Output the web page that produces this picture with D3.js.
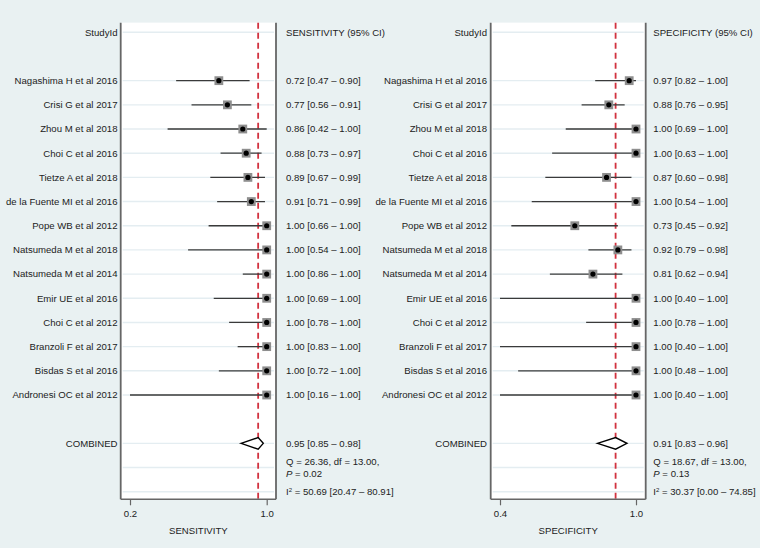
<!DOCTYPE html>
<html><head><meta charset="utf-8">
<script src="https://cdn.jsdelivr.net/npm/d3@7"></script>
<style>html,body{margin:0;padding:0;background:#e9f1f2;}svg{display:block;}</style>
</head><body>
<svg id="chart" width="760" height="548"></svg>
<script>
const studies = ["Nagashima H et al 2016","Crisi G et al 2017","Zhou M et al 2018","Choi C et al 2016","Tietze A et al 2018","de la Fuente MI et al 2016","Pope WB et al 2012","Natsumeda M et al 2018","Natsumeda M et al 2014","Emir UE et al 2016","Choi C et al 2012","Branzoli F et al 2017","Bisdas S et al 2016","Andronesi OC et al 2012"];
const sensEst = [0.72,0.77,0.86,0.88,0.89,0.91,1.00,1.00,1.00,1.00,1.00,1.00,1.00,1.00];
const sensLo  = [0.47,0.56,0.42,0.73,0.67,0.71,0.66,0.54,0.86,0.69,0.78,0.83,0.72,0.16];
const sensHi  = [0.90,0.91,1.00,0.97,0.99,0.99,1.00,1.00,1.00,1.00,1.00,1.00,1.00,1.00];
const specEst = [0.97,0.88,1.00,1.00,0.87,1.00,0.73,0.92,0.81,1.00,1.00,1.00,1.00,1.00];
const specLo  = [0.82,0.76,0.69,0.63,0.60,0.54,0.45,0.79,0.62,0.40,0.78,0.40,0.48,0.40];
const specHi  = [1.00,0.95,1.00,1.00,0.98,1.00,0.92,0.98,0.94,1.00,1.00,1.00,1.00,1.00];
const sensCombined = [0.95,0.85,0.98];
const specCombined = [0.91,0.83,0.96];
const sensQ = ["26.36","13.00","0.02"];
const specQ = ["18.67","13.00","0.13"];
const sensI2 = ["50.69","20.47","80.91"];
const specI2 = ["30.37","0.00","74.85"];
const sensTicks = [0.2,1.0];
const specTicks = [0.4,1.0];

const svg = d3.select("#chart");
const FONT = "Liberation Sans, Arial, Helvetica, sans-serif";
const FS = 9.6;
const y = d3.scaleLinear().domain([0,19]).range([32.3, 32.3+24.18*19]);
const yTop = y(-0.4), yBot = 499.3;

function panel(o){
  const x = d3.scaleLinear().domain(o.ticks).range(o.tickPx);
  const g = svg.append("g");
  const x0 = o.frame[0], x1 = o.frame[1];
  g.append("rect").attr("x",x0).attr("y",yTop).attr("width",x1-x0).attr("height",yBot-yTop).attr("fill","#fff");
  // gridlines
  const gridRows = [0].concat(d3.range(2,16)).concat([17,18,19]);
  g.selectAll(".grid").data(gridRows).join("line")
    .attr("x1",x0+2).attr("x2",x1-2).attr("y1",d=>y(d)).attr("y2",d=>y(d))
    .attr("stroke","#e4edf1").attr("stroke-width",1.4);
  // dashed combined line
  g.append("line").attr("x1",x(o.comb[0])).attr("x2",x(o.comb[0])).attr("y1",yTop).attr("y2",yBot)
    .attr("stroke","#d2323f").attr("stroke-width",1.8).attr("stroke-dasharray","6,4");
  // CI lines
  const dom = x.domain();
  const rows = o.est.map((e,i)=>({e, lo:Math.max(o.lo[i],dom[0]), hi:o.hi[i], r:i+2}));
  g.selectAll(".ci").data(rows).join("line")
    .attr("x1",d=>x(d.lo)).attr("x2",d=>x(d.hi)+ (d.hi>=1?0:0)).attr("y1",d=>y(d.r)).attr("y2",d=>y(d.r))
    .attr("stroke","#3a3a3a").attr("stroke-width",1.3);
  g.selectAll(".box").data(rows).join("rect")
    .attr("x",d=>x(d.e)-4.4).attr("y",d=>y(d.r)-4.4).attr("width",8.8).attr("height",8.8)
    .attr("fill","#8e8e8e");
  g.selectAll(".dot").data(rows).join("circle")
    .attr("cx",d=>x(d.e)).attr("cy",d=>y(d.r)).attr("r",2.6).attr("fill","#000");
  // diamond
  const c = o.comb, yc = y(17), h = 5.8;
  g.append("path").attr("d",`M${x(c[1])},${yc}L${x(c[0])},${yc-h}L${x(c[2])},${yc}L${x(c[0])},${yc+h}Z`)
    .attr("fill","#fff").attr("stroke","#000").attr("stroke-width",1.4);
  // frame
  g.append("line").attr("x1",x0).attr("x2",x0).attr("y1",yTop).attr("y2",yBot).attr("stroke","#666").attr("stroke-width",1.8);
  g.append("line").attr("x1",x1).attr("x2",x1).attr("y1",yTop).attr("y2",yBot).attr("stroke","#666").attr("stroke-width",1.8);
  // axis
  const ax = g.append("g").attr("transform",`translate(0,${yBot})`)
    .call(d3.axisBottom(x).tickValues(o.ticks).tickFormat(d3.format(".1f")).tickSize(6).tickSizeOuter(0));
  ax.select(".domain").attr("d",`M${x0},0H${x1}`).attr("stroke","#666").attr("stroke-width",1.6);
  ax.selectAll(".tick line").attr("stroke","#666").attr("stroke-width",1.2);
  ax.selectAll(".tick text").attr("font-family",FONT).attr("font-size",FS).attr("fill","#222").attr("dy","0.95em");
  g.append("text").attr("x",(x0+x1)/2).attr("y",530.5).attr("dy","0.35em").attr("text-anchor","middle")
    .attr("font-family",FONT).attr("font-size",FS).attr("fill","#222").text(o.title);
  // left labels
  const labels = [{t:"StudyId",r:0}].concat(studies.map((s,i)=>({t:s,r:i+2}))).concat([{t:"COMBINED",r:17}]);
  g.selectAll(".lab").data(labels).join("text")
    .attr("x",o.labelX).attr("y",d=>y(d.r)).attr("dy","0.35em").attr("text-anchor","end")
    .attr("font-family",FONT).attr("font-size",FS).attr("fill","#222").text(d=>d.t);
  // right texts
  const f = d3.format(".2f");
  const rt = [{t:o.title+" (95% CI)",r:0}].concat(rows.map((d,i)=>({t:`${f(o.est[i])} [${f(o.lo[i])} \u2013 ${f(o.hi[i])}]`,r:i+2})))
    .concat([{t:`${f(c[0])} [${f(c[1])} \u2013 ${f(c[2])}]`,r:17}]);
  g.selectAll(".rt").data(rt).join("text")
    .attr("x",o.textX).attr("y",d=>y(d.r)).attr("dy","0.35em")
    .attr("font-family",FONT).attr("font-size",FS).attr("fill","#222").text(d=>d.t);
  g.append("text").attr("x",o.textX).attr("y",462).attr("dy","0.35em")
    .attr("font-family",FONT).attr("font-size",FS).attr("fill","#222").text(`Q = ${o.q[0]}, df = ${o.q[1]},`);
  const pt = g.append("text").attr("x",o.textX).attr("y",474).attr("dy","0.35em")
    .attr("font-family",FONT).attr("font-size",FS).attr("fill","#222");
  pt.append("tspan").attr("font-style","italic").text("P");
  pt.append("tspan").text(` = ${o.q[2]}`);
  const it = g.append("text").attr("x",o.textX).attr("y",y(19)).attr("dy","0.35em")
    .attr("font-family",FONT).attr("font-size",FS).attr("fill","#222");
  it.append("tspan").text("I");
  it.append("tspan").attr("font-size",6).attr("dy","-0.45em").text("2");
  it.append("tspan").attr("dy","0.3em").text(` = ${o.i2[0]} [${o.i2[1]} \u2013 ${o.i2[2]}]`);
}

panel({ticks:sensTicks, tickPx:[130,266.7], frame:[120.7,276], est:sensEst, lo:sensLo, hi:sensHi,
  comb:sensCombined, title:"SENSITIVITY", labelX:117.5, textX:286, q:sensQ, i2:sensI2});
panel({ticks:specTicks, tickPx:[500,636], frame:[490.7,645.7], est:specEst, lo:specLo, hi:specHi,
  comb:specCombined, title:"SPECIFICITY", labelX:487, textX:653.3, q:specQ, i2:specI2});
</script>
</body></html>
